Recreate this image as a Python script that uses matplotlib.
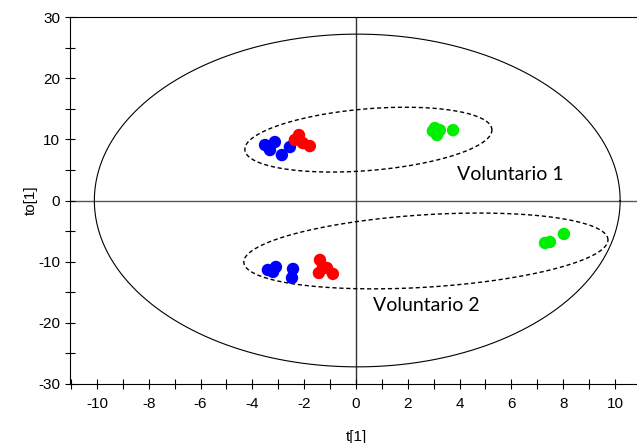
import numpy as np
import matplotlib.pyplot as plt

plt.rcParams['axes.unicode_minus'] = False

# score values t[1] / to[1]
blue_t = [-3.51, -3.13, -3.32, -2.86, -2.55, -3.40, -3.09, -3.20, -2.43, -2.47]
blue_to = [9.07, 9.56, 8.25, 7.43, 8.74, -11.36, -10.87, -11.68, -11.19, -12.66]
red_t = [-2.20, -2.36, -2.05, -1.78, -1.39, -1.43, -1.12, -0.89, -1.27]
red_to = [10.70, 9.90, 9.40, 8.90, -9.72, -11.85, -11.03, -12.00, -10.87]
green_t = [3.05, 3.13, 2.97, 3.24, 3.75, 7.49, 7.30, 8.03]
green_to = [11.85, 10.70, 11.36, 11.50, 11.50, -6.78, -6.94, -5.47]

# Hotelling ellipse half-axes
t2_a, t2_b = 10.15, 27.2

fig = plt.figure(figsize=(6.37, 4.43), dpi=100)
ax = fig.add_axes([0.1099, 0.1332, 0.9165, 0.8284])
ax.set_xlim(-11.04, 11.5)
ax.set_ylim(-30, 30)

ax.axhline(0, color='#555555', lw=1.0, zorder=1)
ax.axvline(0, color='#333333', lw=1.0, zorder=1)

th = np.linspace(0, 2 * np.pi, 400)
ax.plot(0.05 + t2_a * np.cos(th), t2_b * np.sin(th), color='black', lw=0.8, zorder=2)

def group_ellipse(cx, cy, a, b, k):
    x = a * np.cos(th)
    y = b * np.sin(th) + k * x
    ax.plot(cx + x, cy + y, color='black', lw=1.0, ls=(0, (3, 2)), zorder=2)

group_ellipse(0.48, 9.95, 4.77, 5.06, 0.33)
group_ellipse(2.7, -8.25, 7.03, 5.93, 0.256)

ms = 80
ax.scatter(blue_t, blue_to, s=ms, color='#0000ff', edgecolors='none', zorder=3)
ax.scatter(red_t, red_to, s=ms, color='#ff0000', edgecolors='none', zorder=3)
ax.scatter(green_t, green_to, s=ms, color='#00ee00', edgecolors='none', zorder=3)

ax.text(3.9, 4.3, 'Voluntario 1', fontsize=14, family='Lato', va='center')
ax.text(0.66, -17.1, 'Voluntario 2', fontsize=14, family='Lato', va='center')

ax.set_xticks(np.arange(-10, 11, 2))
ax.set_xticks(np.arange(-11, 12, 1), minor=True)
ax.set_yticks(np.arange(-30, 31, 10))
ax.set_yticks(np.arange(-25, 30, 10), minor=True)
ax.tick_params(which='both', direction='inout', length=7, width=0.8, labelsize=11)
for lab in ax.get_xticklabels() + ax.get_yticklabels():
    lab.set_family('Liberation Sans')
ax.tick_params(axis='x', pad=6)

ax.set_xlabel('t[1]', family='Liberation Sans', fontsize=11)
ax.set_ylabel('to[1]', family='Liberation Sans', fontsize=11)
ax.xaxis.set_label_coords((0 + 11.04) / 22.54, -0.125)
ax.yaxis.set_label_coords(-0.055, 0.5)

fig.savefig('out.png', dpi=100)
